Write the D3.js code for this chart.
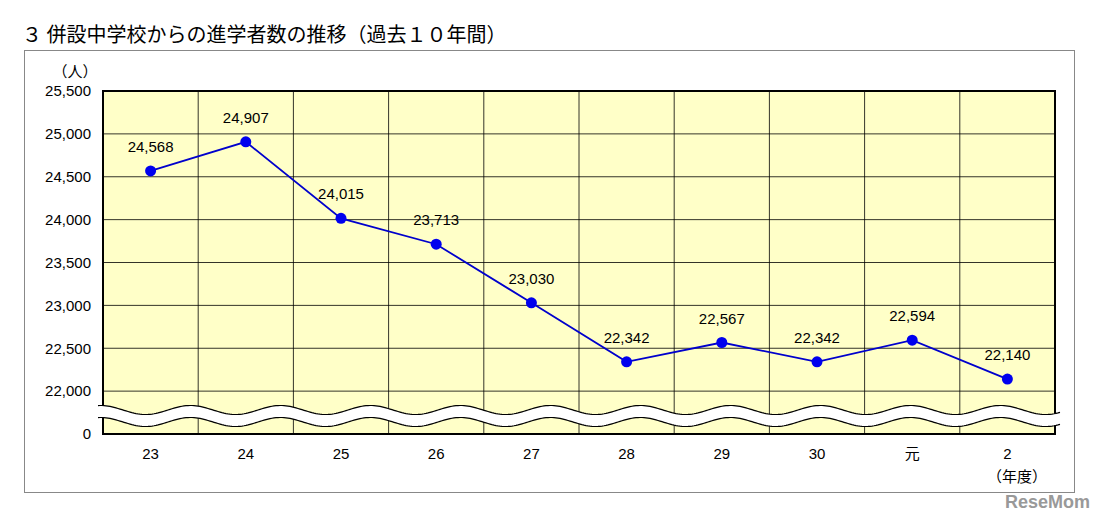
<!DOCTYPE html>
<html lang="ja">
<head>
<meta charset="utf-8">
<script src="https://d3js.org/d3.v7.js"></script>
<style>
  body { margin: 0; background: #fff; }
  text { font-family: "Liberation Sans", Arial, sans-serif; }
</style>
</head>
<body>
<script>
// data
var years = ["23", "24", "25", "26", "27", "28", "29", "30", "元", "2"];
var students = [24568, 24907, 24015, 23713, 23030, 22342, 22567, 22342, 22594, 22140];
var yTicks = [21500, 22000, 22500, 23000, 23500, 24000, 24500, 25000, 25500];

var w = 1102, h = 516;
var margin = {top: 91, left: 103, right: 47, bottom: 82};
var innerW = w - margin.left - margin.right;
var innerH = h - margin.top - margin.bottom;

var svg = d3.select("body").append("svg").attr("width", w).attr("height", h);

// title + frame
svg.append("text").attr("x", 22).attr("y", 42)
    .attr("font-size", 20).attr("fill", "#000")
    .style("font-family", "'Noto Sans CJK JP'")
    .text("３  併設中学校からの進学者数の推移（過去１０年間）");
svg.append("rect").attr("x", 24.5).attr("y", 50.5).attr("width", 1050).attr("height", 442)
    .attr("fill", "none").attr("stroke", "#888");

var xScale = d3.scaleBand().domain(years).range([0, innerW]);
var yScale = d3.scaleLinear().domain([21500, 25500]).range([innerH, 0]);

var g = svg.append("g").attr("transform", `translate(${margin.left},${margin.top})`);

g.append("rect").attr("width", innerW).attr("height", innerH).attr("fill", "#ffffc8");

// grid
g.selectAll(".hg").data(yTicks.slice(1)).enter().append("line")
    .attr("x1", 0).attr("x2", innerW)
    .attr("y1", d => yScale(d)).attr("y2", d => yScale(d))
    .attr("stroke", "#000").attr("stroke-width", 0.8);
g.selectAll(".vg").data(years.slice(1)).enter().append("line")
    .attr("x1", d => xScale(d)).attr("x2", d => xScale(d))
    .attr("y1", 0).attr("y2", innerH)
    .attr("stroke", "#000").attr("stroke-width", 0.8);

// break wave
var period = 90, amp = 4.5, yb = innerH - 18;
function wave(off) {
  var pts = [];
  for (var x = -5; x <= innerW + 5; x += 2) pts.push([x, yb + off + amp * Math.sin((x - 20) / period * 2 * Math.PI)]);
  return pts;
}
var waveTop = wave(-6), waveBot = wave(6);

g.append("rect").attr("width", innerW).attr("height", innerH)
    .attr("fill", "none").attr("stroke", "#000").attr("stroke-width", 2);

g.append("path").attr("d", d3.line()(waveTop.concat(waveBot.slice().reverse())) + "Z").attr("fill", "#fff");
g.append("path").attr("d", d3.line()(waveTop)).attr("fill", "none").attr("stroke", "#000").attr("stroke-width", 1.2);
g.append("path").attr("d", d3.line()(waveBot)).attr("fill", "none").attr("stroke", "#000").attr("stroke-width", 1.2);

// axes
var yAxis = d3.axisLeft(yScale).tickValues(yTicks).tickSize(0).tickPadding(12)
    .tickFormat(d => d === 21500 ? "0" : d3.format(",")(d));
var ya = g.append("g").call(yAxis);
ya.select(".domain").remove();
ya.selectAll("text").attr("font-size", 15).attr("fill", "#000");

var xAxis = d3.axisBottom(xScale).tickSize(0).tickPadding(14);
var xa = g.append("g").attr("transform", `translate(0,${innerH})`).call(xAxis);
xa.select(".domain").remove();
xa.selectAll("text").attr("font-size", 15).attr("fill", "#000")
    .style("font-family", d => d === "元" ? "'Noto Sans CJK JP'" : null);

// unit labels
svg.append("text").attr("x", 75).attr("y", 77).attr("text-anchor", "middle")
    .attr("font-size", 15).style("font-family", "'Noto Sans CJK JP'").text("（人）");
svg.append("text").attr("x", 1017).attr("y", 482).attr("text-anchor", "middle")
    .attr("font-size", 15).style("font-family", "'Noto Sans CJK JP'").text("（年度）");

// line + points
var cx = d => xScale(d) + xScale.bandwidth() / 2;
g.append("path").datum(students)
    .attr("d", d3.line().x((d, i) => cx(years[i])).y(d => yScale(d)))
    .attr("fill", "none").attr("stroke", "#0000cc").attr("stroke-width", 1.8);
g.selectAll(".pt").data(students).enter().append("circle")
    .attr("cx", (d, i) => cx(years[i])).attr("cy", d => yScale(d)).attr("r", 5.5)
    .attr("fill", "#0000ee");
g.selectAll(".lb").data(students).enter().append("text")
    .attr("x", (d, i) => cx(years[i])).attr("y", d => yScale(d) - 19)
    .attr("text-anchor", "middle").attr("font-size", 15).attr("fill", "#000")
    .text(d => d3.format(",")(d));

// watermark
svg.append("text").attr("x", 1090).attr("y", 508).attr("text-anchor", "end")
    .attr("font-size", 18).attr("font-weight", "bold").attr("fill", "#999").text("ReseMom");
</script>
</body>
</html>
